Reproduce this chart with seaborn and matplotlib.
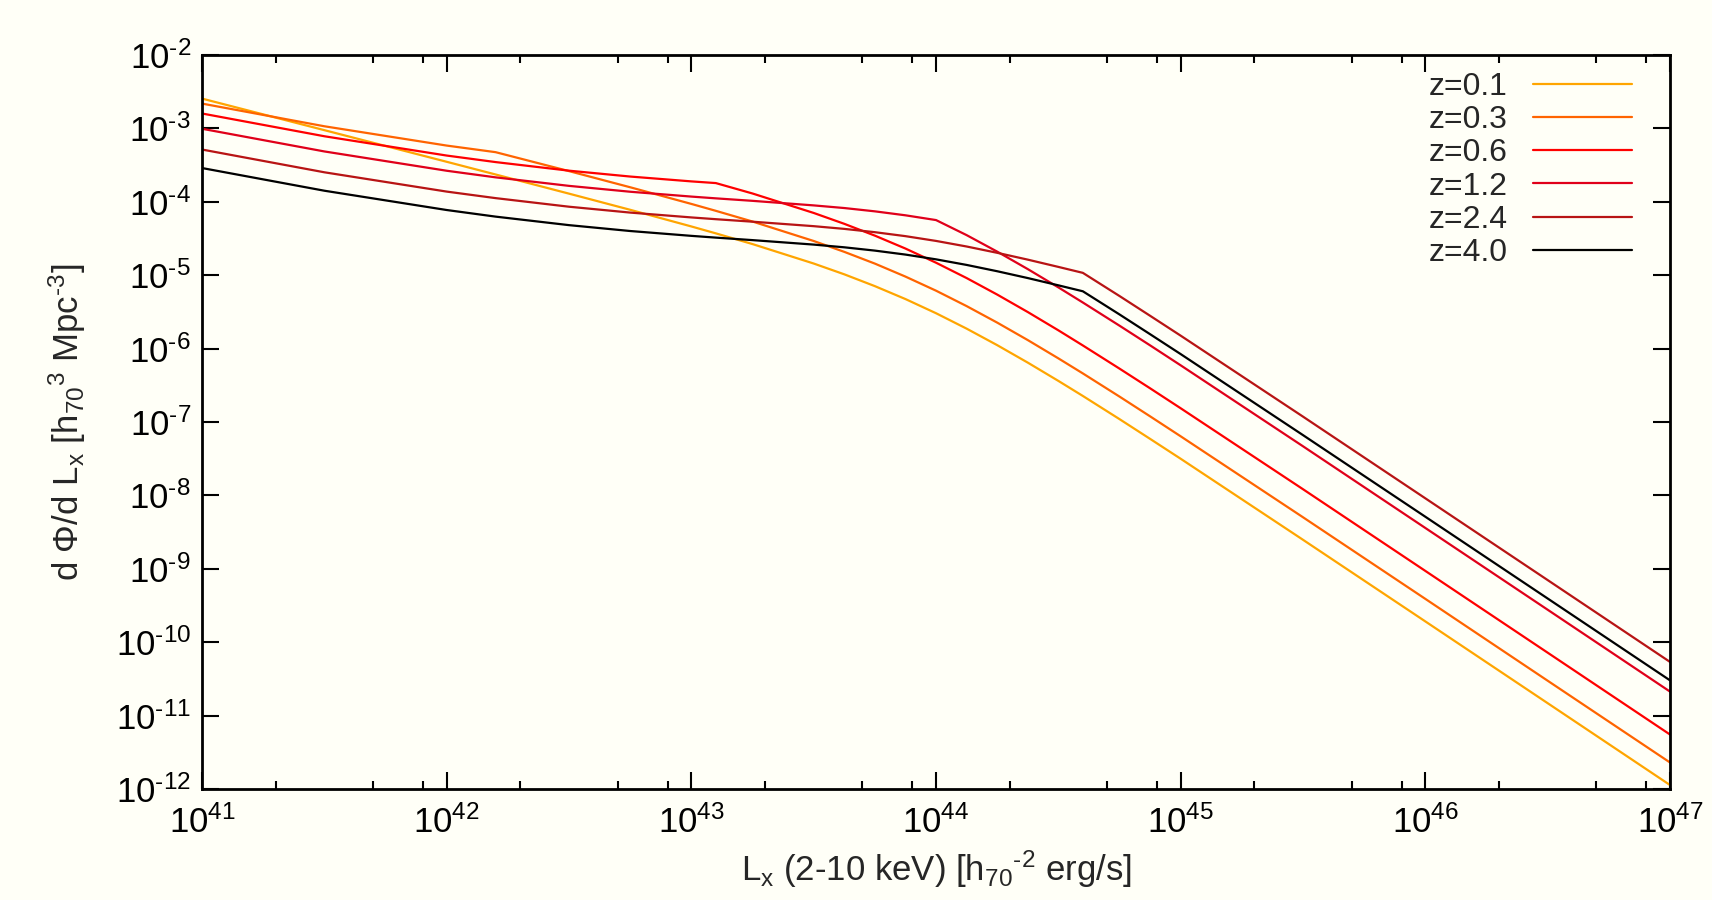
import numpy as np
import pandas as pd
import matplotlib
matplotlib.use("Agg")
import matplotlib.pyplot as plt
import matplotlib.ticker as mticker
import seaborn as sns

sns.set_style("ticks")
plt.rcParams['font.family'] = ['Liberation Sans', 'DejaVu Sans']
plt.rcParams['mathtext.fontset'] = 'custom'
plt.rcParams['mathtext.rm'] = 'Liberation Sans'
plt.rcParams['mathtext.it'] = 'Liberation Sans'
plt.rcParams['axes.unicode_minus'] = False

# log10 L_x sample points (erg/s)
log_lx = [41.0, 41.5, 42.0, 42.2, 42.5, 42.75, 43.0, 43.1, 43.25, 43.5,
          43.625, 43.75, 43.875, 44.0, 44.125, 44.25, 44.375, 44.5, 44.6, 44.75,
          44.875, 45.0, 45.5, 46.0, 46.5, 47.0]

# log10 dPhi/dL
logphi_z01 = [-2.594, -3.024, -3.455, -3.628, -3.889, -4.109, -4.336, -4.430, -4.576, -4.841,
              -4.988, -5.149, -5.325, -5.518, -5.728, -5.953, -6.191, -6.440, -6.645, -6.961,
              -7.230, -7.501, -8.605, -9.717, -10.831, -11.946]
logphi_z03 = [-2.662, -2.971, -3.234, -3.324, -3.582, -3.802, -4.029, -4.123, -4.269, -4.534,
              -4.682, -4.842, -5.019, -5.211, -5.421, -5.646, -5.884, -6.133, -6.338, -6.654,
              -6.923, -7.195, -8.298, -9.410, -10.525, -11.639]
logphi_z06 = [-2.797, -3.107, -3.370, -3.459, -3.576, -3.656, -3.722, -3.745, -3.887, -4.152,
              -4.300, -4.461, -4.637, -4.830, -5.039, -5.264, -5.502, -5.751, -5.957, -6.273,
              -6.541, -6.813, -7.916, -9.029, -10.143, -11.258]
logphi_z12 = [-3.005, -3.314, -3.577, -3.667, -3.783, -3.863, -3.929, -3.953, -3.987, -4.049,
              -4.085, -4.130, -4.184, -4.249, -4.454, -4.679, -4.917, -5.166, -5.372, -5.688,
              -5.956, -6.228, -7.331, -8.444, -9.558, -10.673]
logphi_z24 = [-3.288, -3.598, -3.861, -3.950, -4.067, -4.147, -4.213, -4.237, -4.271, -4.332,
              -4.369, -4.414, -4.468, -4.533, -4.609, -4.695, -4.788, -4.887, -4.968, -5.284,
              -5.553, -5.824, -6.927, -8.040, -9.154, -10.269]
logphi_z40 = [-3.540, -3.849, -4.112, -4.202, -4.318, -4.398, -4.464, -4.488, -4.522, -4.583,
              -4.620, -4.665, -4.719, -4.784, -4.860, -4.946, -5.039, -5.138, -5.219, -5.535,
              -5.804, -6.075, -7.179, -8.291, -9.405, -10.520]

labels = ["z=0.1", "z=0.3", "z=0.6", "z=1.2", "z=2.4", "z=4.0"]
colors = ["#ffa500", "#ff6400", "#ff0000", "#e0001a", "#b81414", "#000000"]

series = [logphi_z01, logphi_z03, logphi_z06, logphi_z12, logphi_z24, logphi_z40]
frames = []
for lab, vals in zip(labels, series):
    frames.append(pd.DataFrame({"L": 10.0 ** np.array(log_lx),
                                "phi": 10.0 ** np.array(vals),
                                "z": lab}))
df = pd.concat(frames, ignore_index=True)


def pow10_label(v, pos):
    # gnuplot style: 10^{-3} with a plain hyphen
    e = int(round(np.log10(v)))
    if e < 0:
        return r"10$^{\text{-}%d}$" % (-e)
    return r"10$^{%d}$" % e


fig = plt.figure(figsize=(17.12, 9.0), dpi=100, facecolor="#fffff7")
ax = fig.add_axes([0.118, 0.1233, 0.8575, 0.8156])
ax.set_facecolor("#fffff7")

sns.lineplot(data=df, x="L", y="phi", hue="z", hue_order=labels,
             palette=colors, linewidth=1.6, sort=False, ax=ax)

ax.set_xscale("log")
ax.set_yscale("log")
ax.set_xlim(1e41, 1e47)
ax.set_ylim(1e-12, 1e-2)

ax.xaxis.set_major_locator(mticker.LogLocator(base=10, numticks=20))
ax.xaxis.set_minor_locator(mticker.LogLocator(base=10, subs=[2, 5, 8], numticks=20))
ax.xaxis.set_minor_formatter(mticker.NullFormatter())
ax.xaxis.set_major_formatter(mticker.FuncFormatter(pow10_label))
ax.yaxis.set_major_locator(mticker.LogLocator(base=10, numticks=20))
ax.yaxis.set_minor_locator(mticker.NullLocator())
ax.yaxis.set_major_formatter(mticker.FuncFormatter(pow10_label))

ax.tick_params(which="both", direction="in", top=True, right=True,
               labelsize=25, colors="black", width=1.5)
ax.tick_params(which="major", length=12)
ax.tick_params(axis="x", which="major", pad=12)
ax.tick_params(axis="y", which="major", pad=8)
ax.tick_params(which="minor", length=6)
for sp in ax.spines.values():
    sp.set_linewidth(2)
    sp.set_color("black")

ax.set_xlabel(r"L$_{\mathrm{x}}$ (2-10 keV) [h$_{70}$$^{\text{-}2}$ erg/s]", fontsize=25, labelpad=6)
ax.set_ylabel(r"d Φ/d L$_{\mathrm{x}}$ [h$_{70}$$^{3}$ Mpc$^{\text{-}3}$]", fontsize=25, labelpad=20)

handles, labs = ax.get_legend_handles_labels()
ax.legend(handles, labs, loc="upper right", frameon=False, fontsize=23,
          markerfirst=False, handlelength=3.1, labelspacing=0.1,
          handletextpad=0.8, borderaxespad=0.5,
          bbox_to_anchor=(0.994, 1.016))

fig.savefig("out.png", dpi=100, facecolor=fig.get_facecolor())
